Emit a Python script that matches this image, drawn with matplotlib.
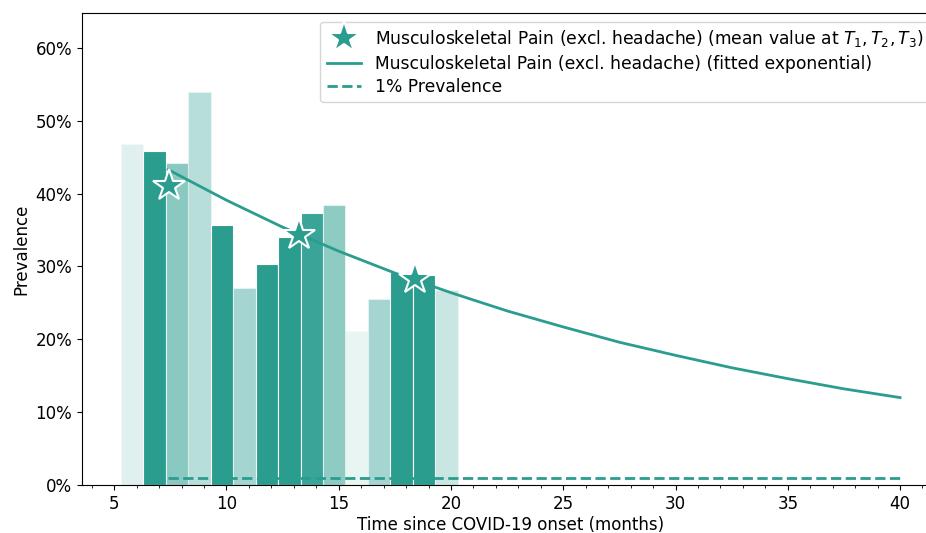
import numpy as np
import matplotlib
matplotlib.use("Agg")
import matplotlib.pyplot as plt
from matplotlib.ticker import PercentFormatter, MultipleLocator

# bar data: left edge (months), prevalence, relative weight (shown as opacity)
bar_left = [5.3, 6.3, 7.3, 8.3, 9.3, 10.3, 11.3, 12.3, 13.3, 14.3, 15.3, 16.3, 17.3, 18.3, 19.3]
bar_prev = [0.468, 0.459, 0.442, 0.540, 0.357, 0.270, 0.303, 0.340, 0.373, 0.385,
            0.212, 0.256, 0.292, 0.288, 0.268]
bar_weight = [0.15, 1.0, 0.55, 0.33, 1.0, 0.42, 1.0, 1.0, 0.93, 0.53, 0.10, 0.42, 1.0, 1.0, 0.25]

# mean values at T1, T2, T3
mean_t = [7.42, 13.24, 18.40]
mean_prev = [0.410, 0.343, 0.283]

# fitted exponential
fit_t = [7.4, 10, 12.5, 15, 17.5, 20, 22.5, 25, 27.5, 30, 32.5, 35, 37.5, 40]
fit_prev = [0.433, 0.391, 0.354, 0.321, 0.291, 0.264, 0.239, 0.217, 0.196,
            0.178, 0.161, 0.146, 0.132, 0.120]

one_pct_t = [7.4, 40]
one_pct = [0.01, 0.01]

teal = "#2a9d8f"
fs = 12

fig = plt.figure(figsize=(9.26, 5.33), dpi=100)
ax = fig.add_axes([82 / 926, 48 / 533, (939 - 82) / 926, (485 - 13) / 533])

for x, h, w in zip(bar_left, bar_prev, bar_weight):
    ax.bar(x, h, width=1.0, align="edge", color=teal, alpha=w,
           edgecolor="white", linewidth=0.8)

ax.plot(mean_t, mean_prev, linestyle="none", marker="*", markersize=24,
        color=teal, markeredgecolor="white", markeredgewidth=1.5, zorder=5,
        label=r"Musculoskeletal Pain (excl. headache) (mean value at $T_1, T_2, T_3$)")
ax.plot(fit_t, fit_prev, color=teal, linewidth=2,
        label="Musculoskeletal Pain (excl. headache) (fitted exponential)")
ax.plot(one_pct_t, one_pct, color=teal, linewidth=2, linestyle="--",
        label="1% Prevalence")

ax.set_xlim(3.565, 41.735)
ax.set_ylim(0, 0.648)
ax.xaxis.set_major_locator(MultipleLocator(5))
ax.xaxis.set_minor_locator(MultipleLocator(1))
ax.yaxis.set_major_locator(MultipleLocator(0.1))
ax.yaxis.set_major_formatter(PercentFormatter(1.0, decimals=0))
ax.tick_params(labelsize=fs)
ax.set_xlabel("Time since COVID-19 onset (months)", fontsize=fs, labelpad=2)
ax.set_ylabel("Prevalence", fontsize=fs)

ax.legend(loc="upper right", fontsize=12.3, handlelength=2.0, borderaxespad=0.5,
          labelspacing=0.3)

fig.savefig("out.png", dpi=100)
